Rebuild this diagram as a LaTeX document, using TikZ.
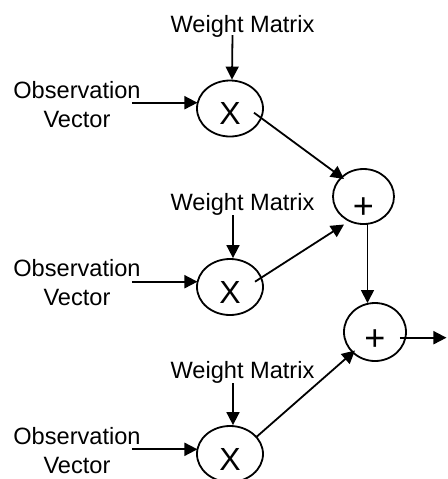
\documentclass[tikz,border=0pt]{standalone}
\usepackage{fontspec}
\setmainfont{Liberation Sans}
\usetikzlibrary{shapes.geometric,arrows.meta}
\begin{document}
\begin{tikzpicture}[x=0.5pt,y=-0.5pt,
  lbl/.style={font=\fontsize{11.8}{14.5}\selectfont, inner sep=0pt, align=center},
  opnode/.style={draw, ellipse, line width=0.9pt, inner sep=0pt},
  mulnode/.style={opnode, minimum width=33pt, minimum height=28pt, font=\fontsize{16}{18}\selectfont},
  arr/.style={line width=0.9pt, -{Triangle[length=6.5pt,width=6.5pt]}}]
\useasboundingbox (0,0) rectangle (447,479);

% multiplier nodes
\node[mulnode] (x1) at (230,108.5) {\smash{\raisebox{-8.2pt}{X}}};
\node[mulnode] (x2) at (230,287) {\smash{\raisebox{-8.2pt}{X}}};
\node[mulnode] (x3) at (230,454) {\smash{\raisebox{-8.2pt}{X}}};

% adder nodes
\node[opnode, minimum width=30.5pt, minimum height=27.5pt, font=\fontsize{18}{20}\selectfont] (p1) at (363.5,196.5) {\smash{\raisebox{-10.8pt}{+}}};
\node[opnode, minimum width=31pt, minimum height=29pt, font=\fontsize{18}{20}\selectfont] (p2) at (375,332) {\smash{\raisebox{-9.4pt}{+}}};

% labels (base anchor = baseline of the last line)
\node[lbl, anchor=base] (w1) at (242.5,32) {Weight Matrix};
\node[lbl, anchor=base] (w2) at (242.5,210) {Weight Matrix};
\node[lbl, anchor=base] (w3) at (242.5,378) {Weight Matrix};
\node[lbl, anchor=base] (o1) at (77,127) {Observation\\Vector};
\node[lbl, anchor=base] (o2) at (77,305.5) {Observation\\Vector};
\node[lbl, anchor=base] (o3) at (77,473) {Observation\\Vector};

\coordinate (out) at (446.5,337.7);

% weight arrows
\draw[arr] ([shift={(-10,3)}]w1.base) -- ([shift={(2,0)}]x1.north);
\draw[arr] ([shift={(-9.5,5)}]w2.base) -- ([shift={(3,0)}]x2.north);
\draw[arr] ([shift={(-9.5,5)}]w3.base) -- ([shift={(3,0)}]x3.north);

% observation arrows
\draw[arr] ([shift={(55,-24.3)}]o1.base) -- ([shift={(-32.5,-5.8)}]x1.center);
\draw[arr] ([shift={(55,-23.8)}]o2.base) -- ([shift={(-32.5,-5.3)}]x2.center);
\draw[arr] ([shift={(55,-23.7)}]o3.base) -- ([shift={(-32.5,-4.7)}]x3.center);

% to adders
\draw[arr] ([shift={(24,4.2)}]x1.center) -- ([shift={(-19.5,-17.5)}]p1.center);
\draw[arr] ([shift={(25,-5.3)}]x2.center) -- ([shift={(-19.5,28)}]p1.center);
\draw[arr] ([shift={(4,27.5)}]p1.center) -- ([shift={(-7.5,-29)}]p2.center);
\draw[arr] ([shift={(26.7,-17.3)}]x3.center) -- ([shift={(-20,18.5)}]p2.center);
\draw[arr] ([shift={(25,5.7)}]p2.center) -- (out);
\end{tikzpicture}
\end{document}
